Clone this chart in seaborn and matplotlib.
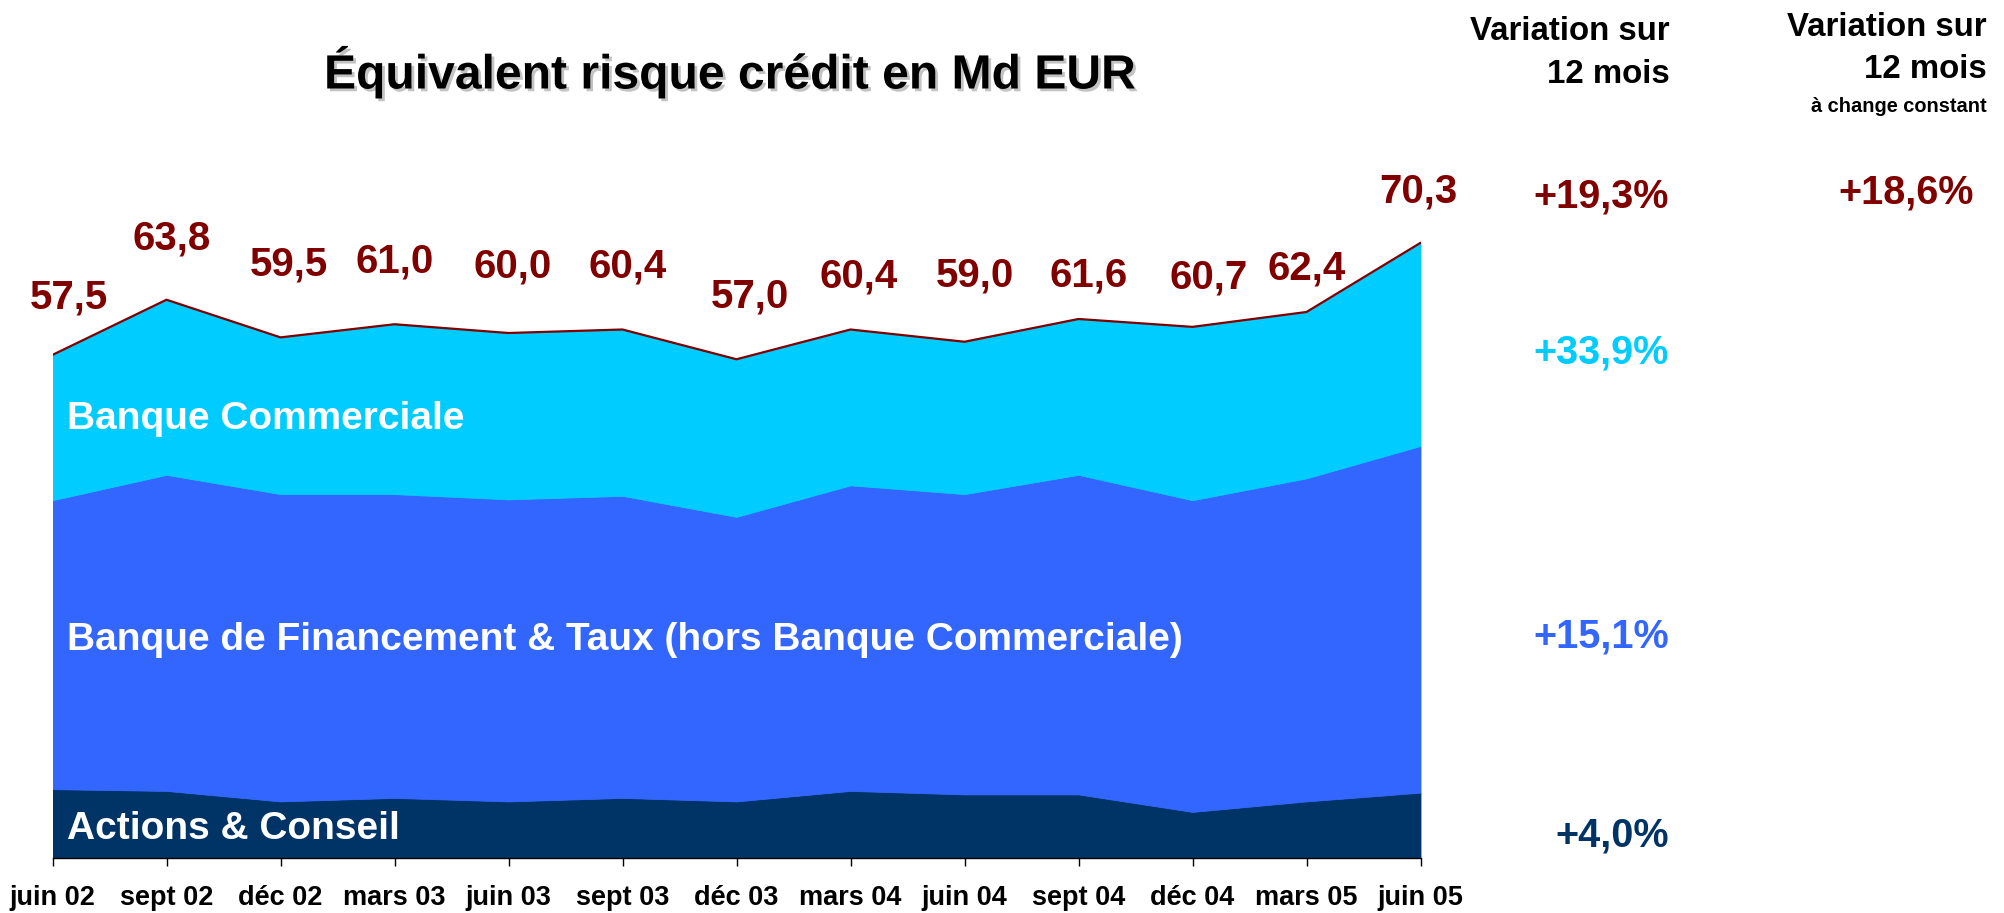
import numpy as np
import pandas as pd
import seaborn as sns
import matplotlib.pyplot as plt
from matplotlib import patheffects

# ----------------------------------------------------------------------
# DATA (Md EUR)
# ----------------------------------------------------------------------

periods = ["juin 02", "sept 02", "déc 02", "mars 03", "juin 03", "sept 03",
           "déc 03", "mars 04", "juin 04", "sept 04", "déc 04", "mars 05",
           "juin 05"]

actions_conseil = [7.9, 7.7, 6.5, 6.9, 6.5, 6.9, 6.5, 7.7, 7.3, 7.3, 5.3, 6.5, 7.5]
financement_taux = [33.0, 36.1, 35.1, 34.7, 34.5, 34.5, 32.5, 34.9, 34.3, 36.5,
                    35.6, 36.9, 39.6]
banque_commerciale = [16.6, 20.0, 17.9, 19.4, 19.0, 19.0, 18.0, 17.8, 17.4, 17.8,
                      19.8, 19.0, 23.2]

total_labels = [57.5, 63.8, 59.5, 61.0, 60.0, 60.4, 57.0, 60.4, 59.0, 61.6,
                60.7, 62.4, 70.3]

var_12m = ["+19,3%", "+33,9%", "+15,1%", "+4,0%"]
var_12m_change_constant = "+18,6%"

# ----------------------------------------------------------------------
# STYLE
# ----------------------------------------------------------------------

CYAN = "#00CCFF"
BLUE = "#3366FF"
NAVY = "#003366"
DARK_RED = "#800000"

W, H = 2004, 913

sns.set_theme(style="white")
plt.rcParams['font.family'] = ['Liberation Sans', 'DejaVu Sans']

# label nudges in pixels (dx right, dy up from the point)
label_dx = [16, 5, 8, 0, 4, 5, 13, 8, 10, 10, 16, 0, -2]
label_dy = [57, 61, 73, 63, 67, 63, 63, 53, 66, 43, 49, 43, 51]


def fx(px):
    return px / W


def fy(py):
    return 1 - py / H


# ----------------------------------------------------------------------
# PLOT
# ----------------------------------------------------------------------

fig = plt.figure(figsize=(W / 100, H / 100), dpi=100)
ax = fig.add_axes([fx(52.5), fy(858.3), (1420.5 - 52.5) / W, 700.4 / H])

x = np.arange(len(periods))
ax.stackplot(x, actions_conseil, financement_taux, banque_commerciale,
             colors=[NAVY, BLUE, CYAN], edgecolor="face", linewidth=0.6)

df = pd.DataFrame({"idx": x, "total": total_labels})
sns.lineplot(data=df, x="idx", y="total", color=DARK_RED, linewidth=1.6, ax=ax)

ax.set_xlim(0, len(periods) - 1)
ax.set_ylim(0, 80)
ax.set_xlabel("")
ax.set_ylabel("")
ax.set_yticks([])
ax.set_xticks(x)
ax.set_xticklabels(periods, fontsize=19.5, fontweight="bold", color="black")
ax.tick_params(axis="x", bottom=True, direction="out", length=6, width=1,
               color="black", pad=13)
for side in ["left", "top", "right"]:
    ax.spines[side].set_visible(False)
ax.spines["bottom"].set_color("black")
ax.spines["bottom"].set_linewidth(1)
ax.patch.set_alpha(0)

# total labels
for i, v in enumerate(total_labels):
    ax.annotate(f"{v:.1f}".replace(".", ","), xy=(i, v),
                xytext=(label_dx[i] * 0.72, label_dy[i] * 0.72),
                textcoords="offset points", ha="center", va="center",
                fontsize=29, fontweight="bold", color=DARK_RED)

# series names inside the areas
inner = dict(fontsize=28, fontweight="bold", color="white", ha="left", va="center")
fig.text(fx(67), fy(419), "Banque Commerciale", **inner)
fig.text(fx(67), fy(640), "Banque de Financement & Taux (hors Banque Commerciale)", **inner)
fig.text(fx(67), fy(829), "Actions & Conseil", **inner)

# title with a soft shadow
fig.text(fx(730), fy(72), "Équivalent risque crédit en Md EUR",
         fontsize=34.6, fontweight="bold", color="black", ha="center", va="center",
         path_effects=[patheffects.withSimplePatchShadow(offset=(2, -2),
                                                         shadow_rgbFace="#aaaaaa",
                                                         alpha=0.7)])

# right hand columns
head = dict(fontsize=23.8, fontweight="bold", color="black", ha="right", va="center")
fig.text(fx(1670), fy(32), "Variation sur", **head)
fig.text(fx(1670), fy(74), "12 mois", **head)
fig.text(fx(1987), fy(27), "Variation sur", **head)
fig.text(fx(1987), fy(70), "12 mois", **head)
fig.text(fx(1987), fy(106), "à change constant", fontsize=14.4, fontweight="bold",
         color="black", ha="right", va="center")

pct = dict(fontsize=28.5, fontweight="bold", ha="right", va="center")
pct_colors = [DARK_RED, CYAN, BLUE, NAVY]
pct_rows = [197, 353, 637, 835]
for txt, col, row in zip(var_12m, pct_colors, pct_rows):
    fig.text(fx(1669), fy(row), txt, color=col, **pct)
fig.text(fx(1974), fy(193), var_12m_change_constant, color=DARK_RED, **pct)

fig.savefig("out.png", dpi=100, facecolor="white")
